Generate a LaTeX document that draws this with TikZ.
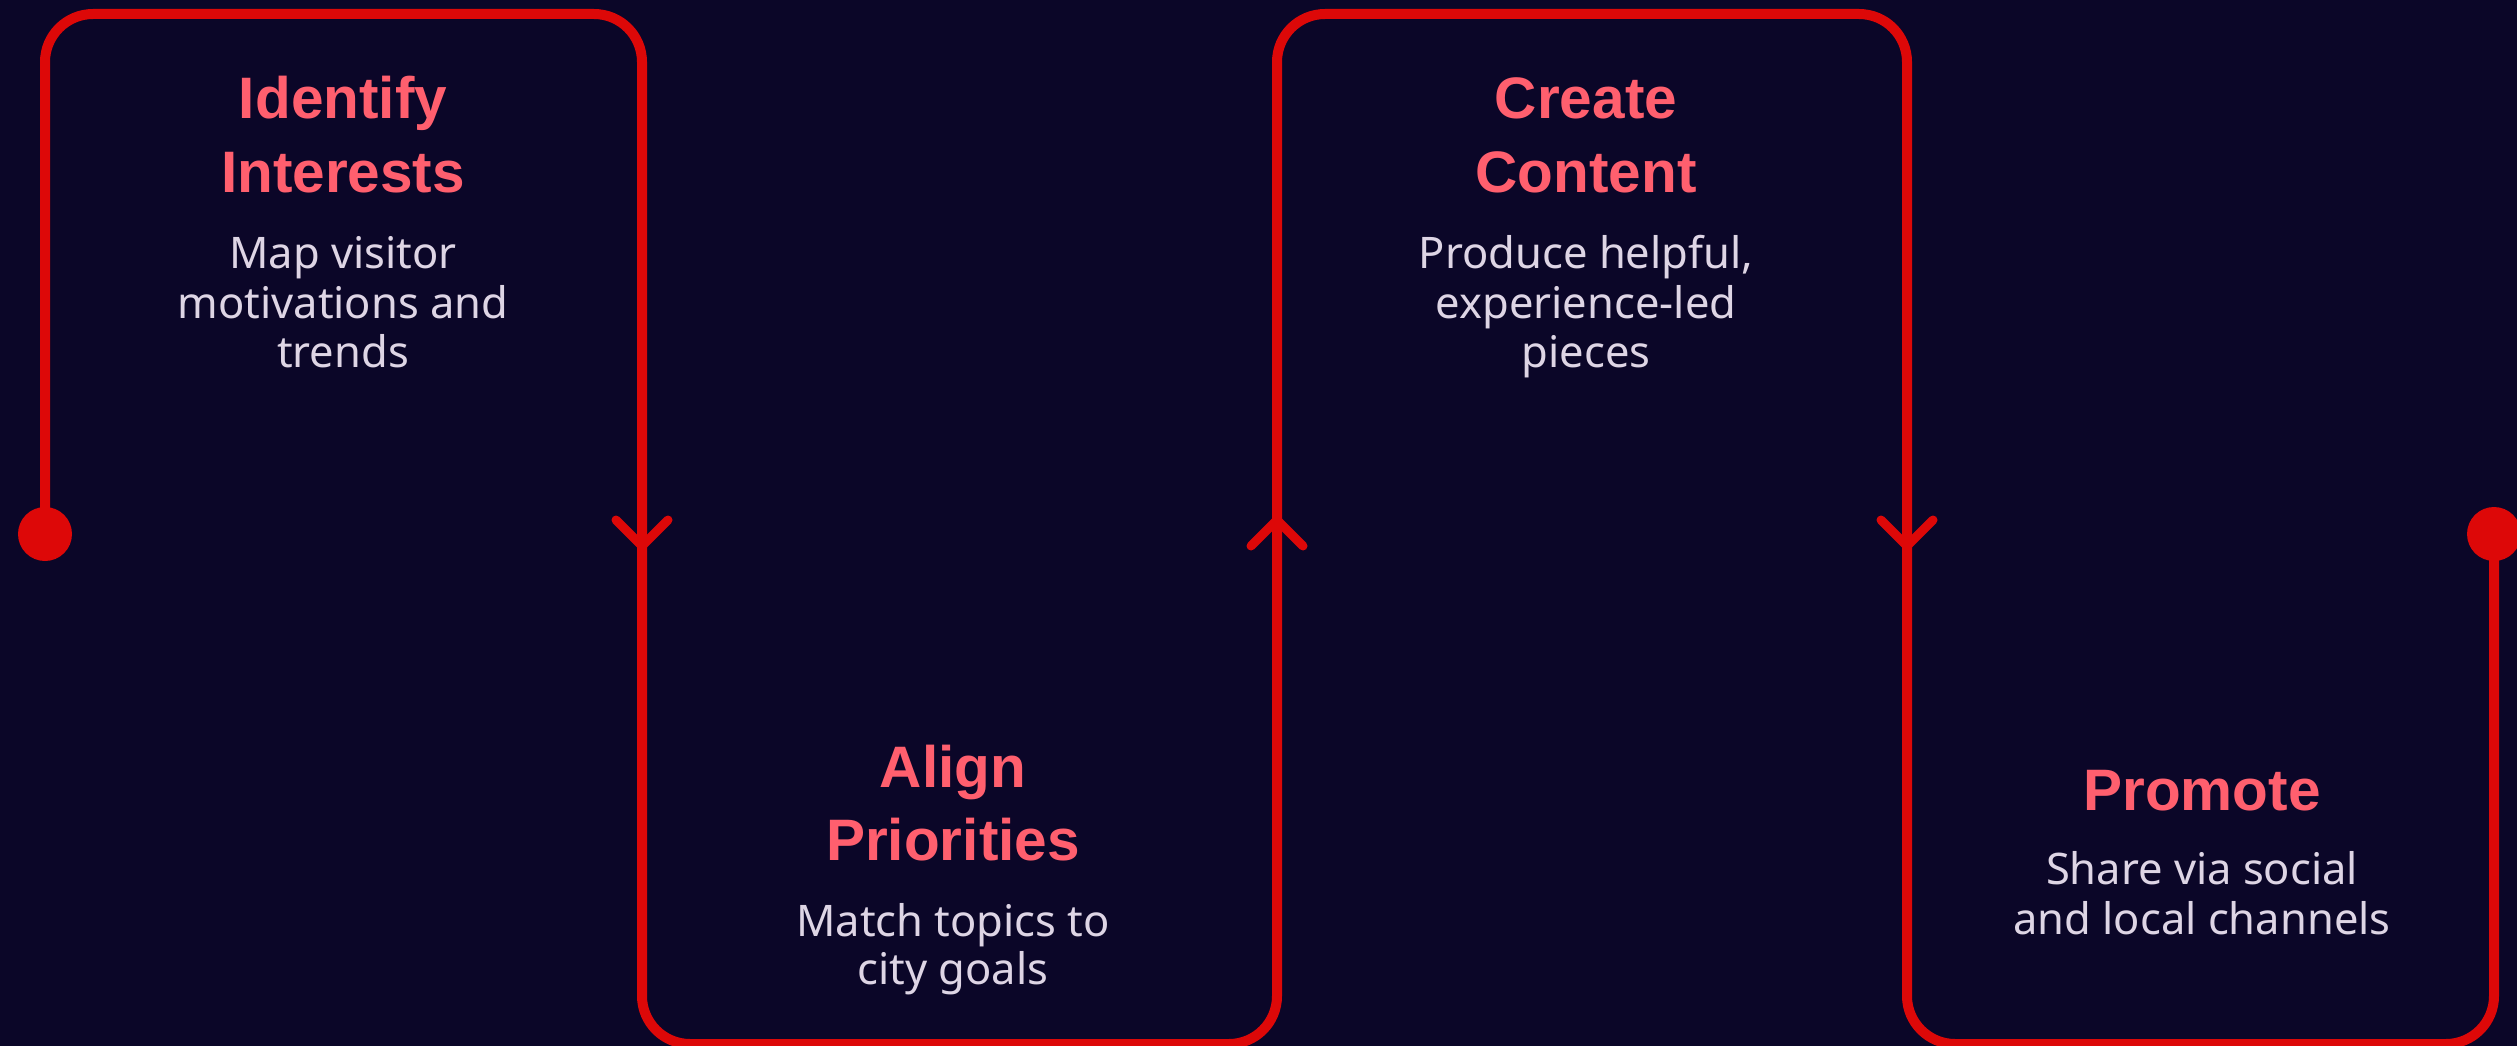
\documentclass[tikz,border=0pt]{standalone}
\usepackage{fontspec}
\setmainfont{Noto Sans}
\newfontfamily\titlefont{Liberation Sans}
\usetikzlibrary{calc}
\definecolor{bgc}{HTML}{0B0628}
\definecolor{flowred}{HTML}{DD0808}
\definecolor{titlec}{HTML}{FF5F6E}
\definecolor{bodyc}{HTML}{DED5E5}
\tikzset{
  flow/.style={draw=flowred, line width=10pt, rounded corners=48pt},
  chev/.style={draw=flowred, line width=9pt, line cap=round, line join=round},
  enddot/.style={circle, fill=flowred, minimum size=54pt, inner sep=0pt},
  ttl/.style={anchor=base, inner sep=0pt, text=titlec, font=\titlefont\bfseries\fontsize{58.5}{70}\selectfont},
  bdy/.style={anchor=base, inner sep=0pt, text=bodyc, font=\fontsize{43.5}{50}\selectfont},
}
\begin{document}
\begin{tikzpicture}[x=1pt, y=-1pt]
\useasboundingbox (0,0) rectangle (2517,1046);
\fill[bgc] (0,0) rectangle (2517,1046);

% end dots
\node[enddot] (d1) at (45,534) {};
\node[enddot] (d2) at (2494,534) {};

% corner coordinates
\coordinate (c1) at (45,14);
\coordinate (c2) at (642,14);
\coordinate (c3) at (642,1044);
\coordinate (c4) at (1277,1044);
\coordinate (c5) at (1277,14);
\coordinate (c6) at (1907,14);
\coordinate (c7) at (1907,1044);
\coordinate (c8) at (2494,1044);

\draw[flow] (d1.center) -- (c1) -- (c2) -- (c3) -- (c4) -- (c5) -- (c6) -- (c7) -- (c8) -- (d2.center);

% direction chevrons
\coordinate (a1) at (642,533);
\coordinate (a2) at (1277,533);
\coordinate (a3) at (1907,533);
\draw[chev] ($(a1)+(-26,-13)$) -- ($(a1)+(0,13)$) -- ($(a1)+(26,-13)$);
\draw[chev] ($(a2)+(-26,13)$) -- ($(a2)+(0,-13)$) -- ($(a2)+(26,13)$);
\draw[chev] ($(a3)+(-26,-13)$) -- ($(a3)+(0,13)$) -- ($(a3)+(26,-13)$);

% step 1
\node[ttl] (t1a) at (343,119) {Identify};
\node[ttl] (t1b) at (343,193) {Interests};
\node[bdy] (b1a) at (343,268) {Map visitor};
\node[bdy] (b1b) at (343,318) {motivations and};
\node[bdy] (b1c) at (343,367) {trends};

% step 2
\node[ttl] (t2a) at (953,787) {Align};
\node[ttl] (t2b) at (953,860) {Priorities};
\node[bdy] (b2a) at (953,936) {Match topics to};
\node[bdy] (b2b) at (953,984) {city goals};

% step 3
\node[ttl] (t3a) at (1586,119) {Create};
\node[ttl] (t3b) at (1586,193) {Content};
\node[bdy] (b3a) at (1586,268) {Produce helpful,};
\node[bdy] (b3b) at (1586,318) {experience-led};
\node[bdy] (b3c) at (1586,367) {pieces};

% step 4
\node[ttl] (t4a) at (2202,810) {Promote};
\node[bdy] (b4a) at (2202,884) {Share via social};
\node[bdy] (b4b) at (2202,934) {and local channels};
\end{tikzpicture}
\end{document}
